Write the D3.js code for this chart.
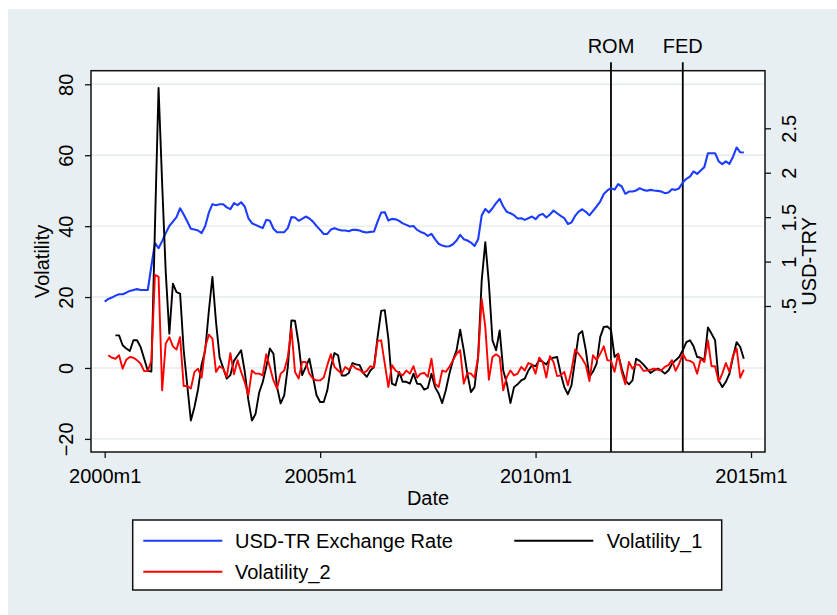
<!DOCTYPE html>
<html>
<head>
<meta charset="utf-8">
<script src="https://cdn.jsdelivr.net/npm/d3@7"></script>
<style>
body { margin: 0; background: #fff; }
svg text { font-family: "Liberation Sans", Arial, Helvetica, sans-serif; fill: #000; }
</style>
</head>
<body>
<svg id="chart" width="837" height="615"></svg>
<script>
const CONSTANTS = {
    WIDTH: 837,
    HEIGHT: 615,
    BG: "#e8eff2",
    GRID: "#e4ecef",
    FONT: "20px",
}

// months since 2000m1
const xTicks = [0, 60, 120, 180];
const xTickLabels = ["2000m1", "2005m1", "2010m1", "2015m1"];

const volTicks = [-20, 0, 20, 40, 60, 80];
const usdTicks = [0.5, 1, 1.5, 2, 2.5];
const usdTickLabels = [".5", "1", "1.5", "2", "2.5"];

const eventMonths = [141, 161];
const eventLabels = ["ROM", "FED"];

// USD-TRY exchange rate, 2000m1 .. 2014m11
const usdTry = [
    0.55, 0.58, 0.595, 0.617, 0.633, 0.633, 0.65, 0.67, 0.68, 0.69, 0.68, 0.68,
    0.68, 0.95, 1.21, 1.15, 1.23, 1.32, 1.40, 1.45, 1.50, 1.60, 1.53, 1.45,
    1.37, 1.36, 1.35, 1.32, 1.40, 1.55, 1.646, 1.635, 1.646, 1.646, 1.61, 1.59,
    1.657, 1.635, 1.668, 1.62, 1.49, 1.432, 1.413, 1.395, 1.376, 1.47, 1.46, 1.37,
    1.33, 1.33, 1.331, 1.376, 1.50, 1.496, 1.46, 1.48, 1.507, 1.485, 1.45, 1.40,
    1.357, 1.31, 1.312, 1.36, 1.376, 1.36, 1.35, 1.349, 1.342, 1.357, 1.357, 1.349,
    1.334, 1.327, 1.334, 1.338, 1.45, 1.552, 1.556, 1.462, 1.481, 1.477, 1.458, 1.43,
    1.413, 1.394, 1.40, 1.357, 1.334, 1.319, 1.289, 1.312, 1.252, 1.20, 1.18, 1.169,
    1.173, 1.195, 1.237, 1.30, 1.252, 1.237, 1.214, 1.176, 1.25, 1.52, 1.593, 1.552,
    1.60, 1.657, 1.706, 1.62, 1.56, 1.544, 1.522, 1.484, 1.488, 1.469, 1.488, 1.507,
    1.477, 1.522, 1.537, 1.496, 1.53, 1.574, 1.544, 1.514, 1.488, 1.424, 1.439, 1.514,
    1.563, 1.589, 1.56, 1.52, 1.57, 1.62, 1.676, 1.76, 1.80, 1.827, 1.81, 1.871,
    1.845, 1.762, 1.788, 1.788, 1.80, 1.826, 1.807, 1.796, 1.807, 1.80, 1.796, 1.788,
    1.77, 1.777, 1.815, 1.807, 1.826, 1.89, 1.931, 1.957, 2.014, 1.987, 2.025, 2.063,
    2.22, 2.22, 2.22, 2.127, 2.097, 2.127, 2.10, 2.18, 2.284, 2.23, 2.228
];

const volatility1 = [
    null, null, null, 9.2, 9.2, 6.4, 5.5, 4.8, 7.8, 7.8, 5.9, 2.6,
    -0.8, -1, 40, 79, 52, 27, 9.7, 23.8, 21.4, 21, 5, -5,
    -14.8, -11, -6, 1, 5, 16, 25.7, 13, 3, 0, -3, -2,
    2, 3.5, 5, -1, -9, -14.8, -13, -7, -4, 0.3, 5.5, 4,
    -5.4, -10, -7.7, 0.3, 13.4, 13.3, 6.9, -2, 0.3, 2.6, -2.5, -7.7,
    -9.6, -9.6, -6.3, 0.3, 4.2, 3.6, -2.1, -2.1, -1.4, 1.4, 1, 0.8,
    -1.4, -2.5, -0.7, 0.3, 8.7, 16.1, 16.3, 8.3, -4.4, -4.9, -1.1, -3.9,
    -3.9, -4.4, -1.6, -4.4, -4.6, -6.1, -5.6, -1.6, -5.4, -7.2, -9.9, -6.3,
    -1.6, 2.2, 5, 10.8, 5, -1.6, -6.8, -5.4, 3.1, 24.7, 35.5, 23.8,
    7.8, 5, 10.6, -0.7, -4.4, -9.9, -5.4, -4.6, -3.5, -3, -0.7, 0.8,
    0.5, 2.2, 1.7, 1, 2.6, 2.9, 3.1, -1.6, -5.4, -7.4, -4.9, 2.2,
    9.5, 10.4, 5, -2.5, -1, 1.2, 8.7, 11.6, 11.7, 10.8, 3.1, 4,
    -0.2, -3.5, -4.6, -3.5, 2.6, 2, 1, -0.2, -1.4, -0.7, -0.2, -0.7,
    -1.6, -0.7, 1.2, 2.2, 3.1, 5, 7.3, 7.8, 6.1, 3.1, 2.9, 2.2,
    11.4, 9.7, 7.8, -3.5, -5.4, -3.9, -1.6, 3.1, 7.3, 5.9, 2.6
];

const volatility2 = [
    null, 3.6, 2.9, 2.6, 3.6, -0.2, 2.3, 3.1, 2.9, 2.2, 1.2, -0.9,
    -0.9, 2, 26.3, 25.7, -6.3, 6.9, 8.7, 6.1, 5.2, 8.7, -5.1, -5.1,
    -5.8, -1.1, -0.2, -2.7, 5.9, 9.4, 8.3, -1.1, 0.5, -0.2, -2.5, 4.2,
    -1.8, 2.2, -1.1, -4, -7.7, -0.7, -1.6, -1.6, -2.1, 3.9, 0.3, -3.5,
    -5.8, -1.6, -0.7, 3.1, 11.1, -1.1, -3, 1.7, 1.7, -1.6, -3, -3.5,
    -3.5, -2.7, 0.8, 3.9, 0.3, -0.7, -1.6, 0.3, -0.5, 0.8, -0.2, -0.5,
    -1.4, -0.8, 0.5, 0.1, 7.6, 7.8, 1.2, -5.4, 0.8, -0.7, -1.4, -2.1,
    -0.7, -1.6, 0.5, -2.7, -1.6, -1.4, -2.5, 2.6, -4.4, -5.4, -0.7, -1.1,
    0.3, 2.2, 4, 5, -4.4, -1.4, -1.6, -2.7, 3.1, 19.5, 11.6, -3.3,
    3.1, 3.9, 3.1, -6.3, -2.5, -0.7, -2.1, -1.6, 0.3, -0.7, 1.4, 1,
    -1.6, 2.9, 1.7, -2.7, 3.3, 1.7, -2.3, -2.1, -1.1, -4.9, -0.7, 5.2,
    4, 2.6, 0.8, -3.7, 3.6, 2.2, 4, 6.1, 2.2, 2, -1.1, 4,
    -1.1, -4.6, 1.7, -0.2, 1, 0.8, -0.8, -0.7, -0.5, -0.2, -0.5, -0.7,
    0.3, 0.8, 2.2, -0.8, 1.2, 4, 2.2, 2, 1.4, -1.6, 2.6, 1.7,
    7.8, 0.5, 0.5, -3.9, -1.6, 1.4, -1.1, 3.6, 5.5, -2.7, -0.5
];

const legendLabels = ["USD-TR Exchange Rate", "Volatility_1", "Volatility_2"];
const seriesColors = ["#1c3cff", "#000000", "#ff0000"];

var svg = d3.select("#chart");

// plot box
var plot = { left: 91, right: 765, top: 70.7, bottom: 452 };

svg.append("rect")
    .attr("x", 8).attr("y", 9)
    .attr("width", CONSTANTS.WIDTH - 8).attr("height", CONSTANTS.HEIGHT - 9)
    .attr("fill", CONSTANTS.BG);

svg.append("rect")
    .attr("x", plot.left).attr("y", plot.top)
    .attr("width", plot.right - plot.left).attr("height", plot.bottom - plot.top)
    .attr("fill", "#fff");

var x = d3.scaleLinear().domain([0, 180]).range([104.7, 751]);
var yVol = d3.scaleLinear().domain([-20, 80]).range([438.9, 84.3]);
var yUsd = d3.scaleLinear().domain([0.5, 2.5]).range([306, 128.3]);

// grid lines on the volatility ticks
svg.append("g")
    .selectAll("line")
    .data(volTicks)
    .enter()
    .append("line")
        .attr("x1", plot.left + 1).attr("x2", plot.right - 1)
        .attr("y1", d => yVol(d)).attr("y2", d => yVol(d))
        .attr("stroke", CONSTANTS.GRID)
        .attr("stroke-width", 1.4);

// event lines
var events = svg.append("g");
events.selectAll("line")
    .data(eventMonths)
    .enter()
    .append("line")
        .attr("x1", d => x(d)).attr("x2", d => x(d))
        .attr("y1", 62.3).attr("y2", plot.bottom)
        .attr("stroke", "#000")
        .attr("stroke-width", 1.8);
events.selectAll("text")
    .data(eventMonths)
    .enter()
    .append("text")
        .attr("x", d => x(d)).attr("y", 53.3)
        .attr("text-anchor", "middle")
        .style("font-size", CONSTANTS.FONT)
        .text((d, i) => eventLabels[i]);

// series
var lineUsd = d3.line()
    .x((d, i) => x(i))
    .y(d => yUsd(d));
var lineVol = d3.line()
    .defined(d => d !== null)
    .x((d, i) => x(i))
    .y(d => yVol(d));

svg.append("path")
    .attr("d", lineUsd(usdTry))
    .attr("fill", "none")
    .attr("stroke", seriesColors[0])
    .attr("stroke-width", 2.1)
    .attr("stroke-linejoin", "round");

svg.append("path")
    .attr("d", lineVol(volatility1))
    .attr("fill", "none")
    .attr("stroke", seriesColors[1])
    .attr("stroke-width", 1.9)
    .attr("stroke-linejoin", "round");

svg.append("path")
    .attr("d", lineVol(volatility2))
    .attr("fill", "none")
    .attr("stroke", seriesColors[2])
    .attr("stroke-width", 1.9)
    .attr("stroke-linejoin", "round");

// frame
svg.append("rect")
    .attr("x", plot.left).attr("y", plot.top)
    .attr("width", plot.right - plot.left).attr("height", plot.bottom - plot.top)
    .attr("fill", "none")
    .attr("stroke", "#111")
    .attr("stroke-width", 1.5);

// axes
var axLeft = svg.append("g")
    .attr("transform", "translate(" + plot.left + ",0)")
    .call(d3.axisLeft(yVol).tickValues(volTicks).tickSize(6).tickFormat(d3.format("d")));
axLeft.select(".domain").remove();
axLeft.selectAll("text")
    .attr("transform", "rotate(-90)")
    .attr("x", 0).attr("y", -18.3).attr("dy", 0)
    .attr("text-anchor", "middle")
    .style("font-size", CONSTANTS.FONT);

var axRight = svg.append("g")
    .attr("transform", "translate(" + plot.right + ",0)")
    .call(d3.axisRight(yUsd).tickValues(usdTicks).tickSize(6).tickFormat((d, i) => usdTickLabels[i]));
axRight.select(".domain").remove();
axRight.selectAll("text")
    .attr("transform", "rotate(-90)")
    .attr("x", 0).attr("y", 31).attr("dy", 0)
    .attr("text-anchor", "middle")
    .style("font-size", CONSTANTS.FONT);

var axBottom = svg.append("g")
    .attr("transform", "translate(0," + plot.bottom + ")")
    .call(d3.axisBottom(x).tickValues(xTicks).tickSize(6).tickFormat((d, i) => xTickLabels[i]));
axBottom.select(".domain").remove();
axBottom.selectAll("text")
    .attr("y", 30.7).attr("dy", 0)
    .style("font-size", CONSTANTS.FONT);

svg.selectAll(".tick line").attr("stroke", "#111").attr("stroke-width", 1.3);
svg.selectAll(".tick text").attr("fill", "#000").style("font-family", '"Liberation Sans", Arial, sans-serif');

// titles
svg.append("text")
    .attr("transform", "translate(49,261.4) rotate(-90)")
    .attr("text-anchor", "middle")
    .style("font-size", CONSTANTS.FONT)
    .text("Volatility");
svg.append("text")
    .attr("transform", "translate(816,261.4) rotate(-90)")
    .attr("text-anchor", "middle")
    .style("font-size", CONSTANTS.FONT)
    .text("USD-TRY");
svg.append("text")
    .attr("x", 428).attr("y", 505)
    .attr("text-anchor", "middle")
    .style("font-size", CONSTANTS.FONT)
    .text("Date");

// legend
var legend = svg.append("g");
legend.append("rect")
    .attr("x", 132.7).attr("y", 520)
    .attr("width", 589).attr("height", 70)
    .attr("fill", "#fff")
    .attr("stroke", "#111")
    .attr("stroke-width", 1.5);

var legendPos = [[143.3, 540.7], [514.3, 540.7], [143.3, 571.7]];
legendLabels.forEach((label, i) => {
    var p = legendPos[i];
    legend.append("line")
        .attr("x1", p[0]).attr("x2", p[0] + 79)
        .attr("y1", p[1]).attr("y2", p[1])
        .attr("stroke", seriesColors[i])
        .attr("stroke-width", 1.9);
    legend.append("text")
        .attr("x", p[0] + (i === 1 ? 92.4 : 91.7))
        .attr("y", p[1] + 7)
        .style("font-size", CONSTANTS.FONT)
        .text(label);
});
</script>
</body>
</html>
